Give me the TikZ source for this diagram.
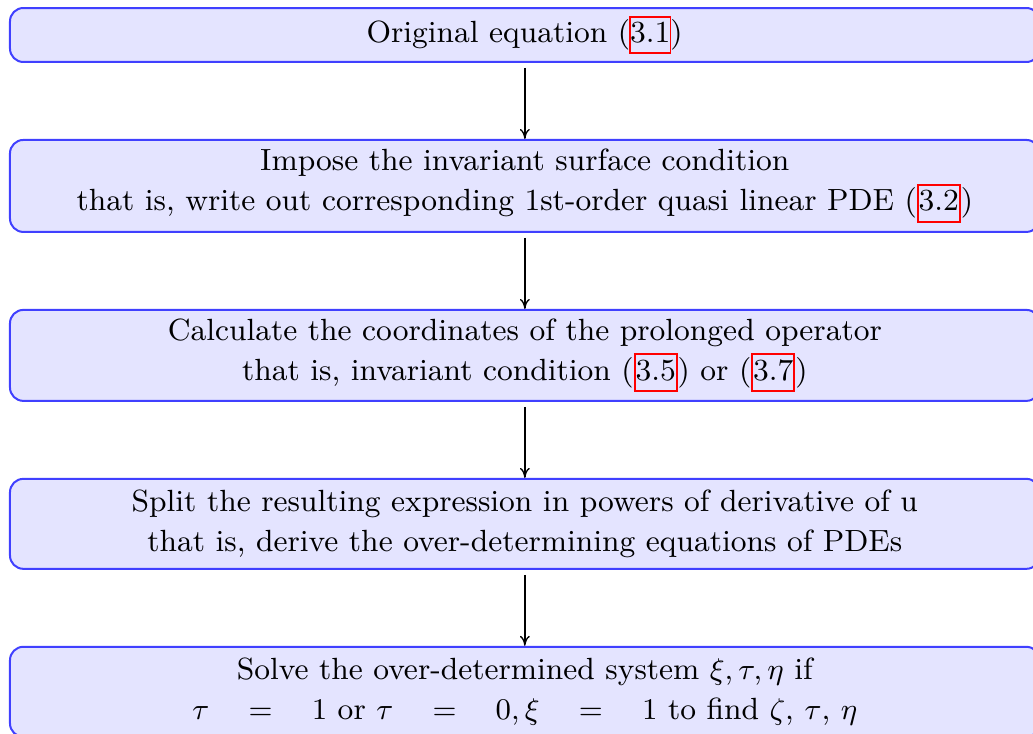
\documentclass[tikz,border=0pt]{standalone}
\usetikzlibrary{arrows.meta}
\definecolor{stagefill}{RGB}{228,228,255}
\newcommand{\lnk}[1]{{\setlength{\fboxsep}{0pt}\setlength{\fboxrule}{0.55pt}\fcolorbox{red}{stagefill}{\vrule height 7.6pt depth 3pt width 0pt#1}}}
\tikzset{
  stage/.style={draw=blue!75, semithick, fill=stagefill, rounded corners=4pt,
    minimum width=309pt, align=center, inner sep=0pt, text=black,
    font=\fontsize{9.2}{12}\selectfont},
  txt/.style={inner sep=0pt, outer sep=0pt, font=\fontsize{9.2}{12}\selectfont},
  reflink/.style={txt, draw=red, line width=0.55pt, text height=7.6pt, text depth=3pt},
  flow/.style={-{To[length=3pt,width=3pt]}, thin, shorten <=1.5pt}
}
\begin{document}
\begin{tikzpicture}[x=1pt,y=1pt]
\useasboundingbox (0,0) rectangle (310,-220);
\node[stage, minimum height=16.2pt] (n1) at (157.5,-10.5) {};
\node[txt, anchor=base west] (t1a) at (110,-12.8) {Original equation (};
\node[reflink, anchor=base west] (r1) at (t1a.base east) {3.1};
\node[txt, anchor=base west] (t1c) at (r1.base east) {)};
\node[stage, minimum height=27.6pt] (n2) at (157.5,-55.8) {Impose the invariant surface condition\\that is, write out corresponding 1st-order quasi linear PDE (\lnk{3.2})};
\node[stage, minimum height=27.3pt] (n3) at (157.5,-106.65) {Calculate the coordinates of the prolonged operator\\that is, invariant condition (\lnk{3.5}) or (\lnk{3.7})};
\node[stage, minimum height=27pt] (n4) at (157.5,-157.2) {Split the resulting expression in powers of derivative of u\\that is, derive the over-determining equations of PDEs};
\node[stage, minimum height=27pt] (n5) at (157.5,-207.6) {Solve the over-determined system $\xi, \tau, \eta$ if\\$\tau\quad=\quad 1$ or $\tau\quad=\quad 0, \xi\quad=\quad 1$ to find $\zeta$, $\tau$, $\eta$};
\draw[flow] (n1) -- (n2);
\draw[flow] (n2) -- (n3);
\draw[flow] (n3) -- (n4);
\draw[flow] (n4) -- (n5);
\end{tikzpicture}
\end{document}
